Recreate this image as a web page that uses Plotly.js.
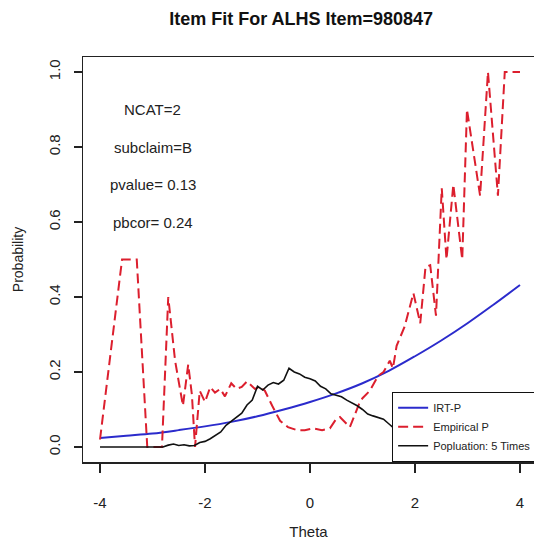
<!DOCTYPE html>
<html>
<head>
<meta charset="utf-8">
<script src="https://cdn.plot.ly/plotly-3.0.1.min.js"></script>
<style>html,body{margin:0;padding:0;background:#fff;}#chart{width:534px;height:543px;}</style>
</head>
<body>
<div id="chart"></div>
<script>
// IRT-P model curve
const irtX = [-4, -3.5, -3, -2.5, -2, -1.5, -1, -0.5, 0, 0.5, 1, 1.5, 2, 2.5, 3, 3.5, 4];
const irtY = [0.024, 0.030, 0.036, 0.045, 0.055, 0.067, 0.082, 0.100, 0.120, 0.143, 0.170, 0.203, 0.242, 0.284, 0.330, 0.380, 0.432];

// Empirical P
const empX = [-4.0, -3.58, -3.30, -3.10, -2.82, -2.70, -2.57, -2.42, -2.32, -2.25, -2.19, -2.10, -2.00, -1.90, -1.81, -1.71, -1.62, -1.50, -1.40, -1.30, -1.20, -1.05, -0.95, -0.86, -0.72, -0.57, -0.42, -0.25, -0.10, 0.06, 0.23, 0.38, 0.50, 0.57, 0.76, 0.95, 1.00, 1.14, 1.30, 1.40, 1.52, 1.58, 1.65, 1.80, 1.97, 2.10, 2.20, 2.29, 2.40, 2.51, 2.60, 2.73, 2.90, 2.99, 3.24, 3.39, 3.58, 3.71, 4.00];
const empY = [0.02, 0.50, 0.50, 0.0, 0.0, 0.40, 0.23, 0.11, 0.22, 0.14, 0.0, 0.15, 0.12, 0.16, 0.145, 0.155, 0.135, 0.17, 0.155, 0.16, 0.175, 0.155, 0.16, 0.15, 0.11, 0.07, 0.053, 0.045, 0.045, 0.05, 0.045, 0.05, 0.075, 0.08, 0.053, 0.12, 0.13, 0.15, 0.19, 0.20, 0.23, 0.21, 0.27, 0.32, 0.41, 0.33, 0.48, 0.485, 0.35, 0.69, 0.50, 0.70, 0.50, 0.90, 0.67, 1.0, 0.67, 1.0, 1.0];

// Population: 5 Times
const popX = [-4.0, -3.5, -3.0, -2.8, -2.7, -2.6, -2.5, -2.4, -2.3, -2.2, -2.1, -2.0, -1.9, -1.8, -1.7, -1.6, -1.5, -1.4, -1.3, -1.2, -1.1, -1.0, -0.9, -0.8, -0.7, -0.6, -0.5, -0.4, -0.3, -0.2, -0.1, 0.0, 0.1, 0.2, 0.3, 0.4, 0.5, 0.6, 0.7, 0.8, 0.9, 1.0, 1.1, 1.2, 1.3, 1.4, 1.5, 1.6, 1.8, 2.0, 2.4, 2.8, 3.2, 3.6, 4.0];
const popY = [0, 0, 0, 0, 0.005, 0.008, 0.004, 0.006, 0.003, 0.004, 0.012, 0.015, 0.022, 0.03, 0.04, 0.058, 0.068, 0.078, 0.09, 0.112, 0.125, 0.162, 0.152, 0.165, 0.172, 0.168, 0.178, 0.21, 0.2, 0.195, 0.186, 0.182, 0.176, 0.162, 0.155, 0.142, 0.138, 0.134, 0.125, 0.118, 0.11, 0.1, 0.088, 0.083, 0.078, 0.074, 0.062, 0.05, 0.04, 0.03, 0.018, 0.01, 0.005, 0.002, 0];

const seriesNames = ["IRT-P", "Empirical P", "Popluation: 5 Times"];
const xTicks = [-4, -2, 0, 2, 4];
const xTickText = ["-4", "-2", "0", "2", "4"];
const yTicks = [0, 0.2, 0.4, 0.6, 0.8, 1.0];
const yTickText = ["0.0", "0.2", "0.4", "0.6", "0.8", "1.0"];
const infoLabels = ["NCAT=2", "subclaim=B", "pvalue= 0.13", "pbcor= 0.24"];
const infoY = [0.9, 0.8, 0.7, 0.6];
const infoX = -3;

const FONT = "Liberation Sans, Arial, sans-serif";

const traces = [
  {x: irtX, y: irtY, name: seriesNames[0], mode: "lines",
   line: {color: "#2b2bcc", width: 2, shape: "spline"}},
  {x: empX, y: empY, name: seriesNames[1], mode: "lines",
   line: {color: "#dc1f2e", width: 2, dash: "10px,5px"}},
  {x: popX, y: popY, name: seriesNames[2], mode: "lines",
   line: {color: "#111", width: 1.6}}
];

const annotations = infoLabels.map((t, i) => ({
  x: infoX, y: infoY[i], xref: "x", yref: "y", text: t, showarrow: false,
  xanchor: "center", yanchor: "middle",
  font: {family: FONT, size: 15, color: "#222"}
}));

const layout = {
  width: 534, height: 543,
  margin: {l: 83, r: 0, t: 57, b: 81, autoexpand: false},
  paper_bgcolor: "#fff", plot_bgcolor: "#fff",
  font: {family: FONT, color: "#222"},
  title: {text: "<b>Item Fit For ALHS Item=980847</b>", xref: "container", yref: "container",
          x: 0.564, xanchor: "center", y: 0.965, yanchor: "middle",
          font: {family: FONT, size: 18, color: "#111"}},
  xaxis: {range: [-4.324, 4.267], tickvals: xTicks, ticktext: xTickText,
          showgrid: false, zeroline: false, showline: true, mirror: true,
          linecolor: "#222", linewidth: 1.5, ticks: "outside", ticklen: 9,
          tickwidth: 1.5, tickcolor: "#222", ticklabelstandoff: 17,
          tickfont: {family: FONT, size: 15, color: "#222"},
          title: {text: "Theta", standoff: 17, font: {family: FONT, size: 15, color: "#222"}}},
  yaxis: {range: [-0.04, 1.04], tickvals: yTicks, ticktext: yTickText,
          showgrid: false, zeroline: false, showline: true, mirror: false,
          linecolor: "#222", linewidth: 1.5, ticks: "outside", ticklen: 8,
          tickwidth: 1.5, tickcolor: "#222", tickangle: -90, ticklabelstandoff: 8,
          tickfont: {family: FONT, size: 15, color: "#222"},
          title: {text: "Probability", standoff: 18, font: {family: FONT, size: 14, color: "#222"}}},
  legend: {x: 0.685, xanchor: "left", y: 0, yanchor: "bottom",
           bgcolor: "#fff", bordercolor: "#111", borderwidth: 1.2,
           font: {family: FONT, size: 11, color: "#222"}, itemwidth: 30,
           tracegroupgap: 0},
  annotations: annotations,
  showlegend: true
};

Plotly.newPlot("chart", traces, layout, {displayModeBar: false, staticPlot: true});
</script>
</body>
</html>
